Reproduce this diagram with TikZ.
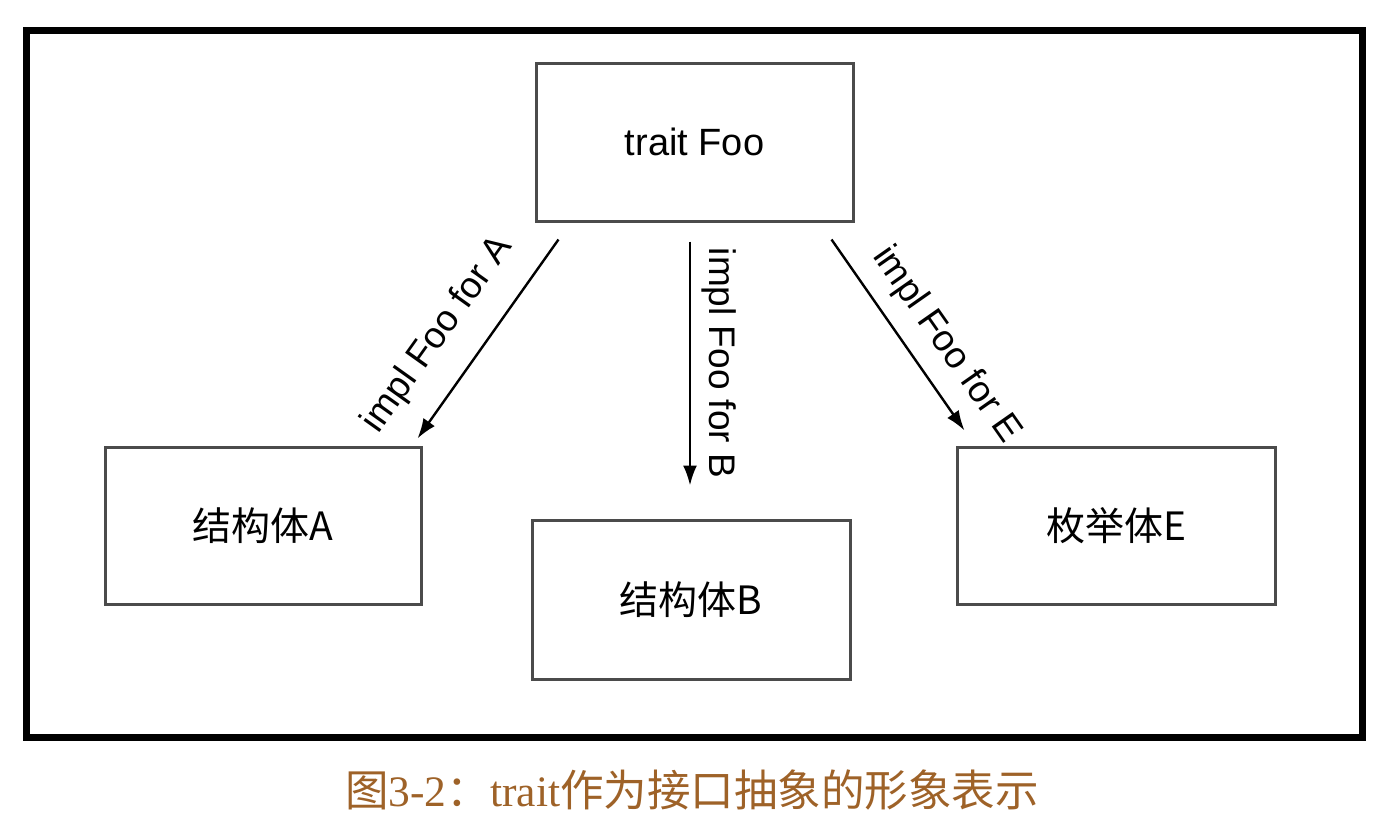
\documentclass[tikz,border=0pt]{standalone}
\usepackage{fontspec}
\setmainfont{Liberation Serif}
\setsansfont{Liberation Sans}
\newfontfamily\cjk{Noto Sans CJK SC}
\newfontfamily\lsans{Liberation Sans}
\usetikzlibrary{arrows.meta,calc}
\definecolor{capbrown}{RGB}{158,98,40}
\definecolor{boxgray}{RGB}{75,75,75}
\tikzset{
  box/.style={draw=boxgray, line width=3pt, fill=white, minimum width=#1, inner sep=0pt, font=\cjk\fontsize{39}{44}\selectfont},
  impl/.style={line width=2.4pt, -{Latex[length=20pt,width=14pt]}},
  lbl/.style={font=\lsans\fontsize{37}{42}\selectfont, inner sep=0pt}
}
\begin{document}
\begin{tikzpicture}[x=1pt,y=-1pt]
\useasboundingbox (0,0) rectangle (1390,828);
\draw[line width=7pt] (26,30.5) rectangle (1362.5,737);
\node[box=317pt, minimum height=158pt] (foo) at (694.5,142) {\lsans\fontsize{38}{44}\selectfont trait Foo};
\node[box=316pt, minimum height=157pt] (a) at (263,525.5) {结构体A};
\node[box=318pt, minimum height=159pt] (b) at (691,599.5) {结构体B};
\node[box=318pt, minimum height=157pt] (e) at (1116,525.5) {枚举体E};
\draw[impl] ($(foo.south west)+(24,17)$) -- ($(a.north east)+(-5,-7)$);
\draw[impl] ($(foo.south)+(-4.5,19)$) -- ($(b.north)+(-1,-33)$);
\draw[impl] ($(foo.south east)+(-23,17)$) -- ($(e.north west)+(9,-15)$);
\node[lbl, rotate=54.5] (la) at (438,335) {impl Foo for A};
\node[lbl, rotate=-90] (lb) at (719,363) {impl Foo for B};
\node[lbl, rotate=-55] (le) at (946,345) {impl Foo for E};
\node[text=capbrown, inner sep=0pt, font=\fontsize{43.5}{48}\selectfont] (cap) at (692,790)
  {{\cjk 图}3-2{\cjk ：}trait{\cjk 作为接口抽象的形象表示}};
\end{tikzpicture}
\end{document}
